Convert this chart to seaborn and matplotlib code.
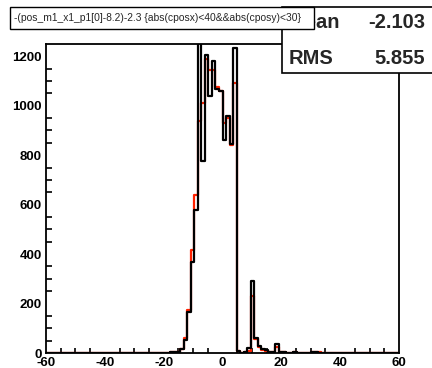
import numpy as np
import pandas as pd
import matplotlib
matplotlib.use("Agg")
import matplotlib.pyplot as plt
from matplotlib.patches import Rectangle
from matplotlib.ticker import MultipleLocator
import seaborn as sns

# Histogram binning: 100 bins over [-60, 60]
x_min, x_max, n_bins = -60.0, 60.0, 100
first_bin = 35  # index of the first bin listed below

# Bin contents starting at bin index `first_bin`
counts_black = [3, 4, 5, 15, 52, 167, 369, 580, 1400, 775,
                1205, 1041, 1180, 1066, 1058, 861, 958, 847, 1232, 8,
                1, 5, 19, 291, 59, 28, 15, 13, 4, 3,
                36, 4, 3, 2, 2, 5, 0, 0, 0, 0,
                6, 6, 0]
counts_red = [4, 4, 5, 16, 60, 175, 415, 640, 938, 1009,
              1190, 1146, 1146, 1075, 1060, 930, 950, 840, 1090, 8,
              1, 4, 8, 232, 55, 25, 14, 10, 4, 3,
              25, 4, 3, 2, 2, 3, 0, 0, 0, 0,
              6, 6, 4]

title_text = "-(pos_m1_x1_p1[0]-8.2)-2.3 {abs(cposx)<40&&abs(cposy)<30}"
stat_names = ["Mean", "RMS"]
stat_values = ["-2.103", "5.855"]

x_ticks = [-60, -40, -20, 0, 20, 40, 60]
y_ticks = [0, 200, 400, 600, 800, 1000, 1200]

width = (x_max - x_min) / n_bins
sel = x_min + width * (np.arange(len(counts_black)) + first_bin + 0.5)
df = pd.DataFrame({"x": sel, "black": counts_black, "red": counts_red})

sns.set_theme(style="white")
plt.rcParams["font.family"] = ["Liberation Sans", "DejaVu Sans"]

W, H = 432, 368
fig = plt.figure(figsize=(W / 100, H / 100), dpi=100)
ax = fig.add_axes([46 / W, 15 / H, 353 / W, 309 / H])

sns.histplot(data=df, x="x", weights="red", bins=n_bins,
             binrange=(x_min, x_max), element="step", fill=False,
             color="#ff2200", linewidth=1.6, ax=ax)
sns.histplot(data=df, x="x", weights="black", bins=n_bins,
             binrange=(x_min, x_max), element="step", fill=False,
             color="black", linewidth=1.6, ax=ax)

ax.set_xlim(x_min, x_max)
ax.set_ylim(0, 1.05 * max(counts_red))
ax.set_xlabel("")
ax.set_ylabel("")
ax.set_xticks(x_ticks)
ax.set_yticks(y_ticks)
ax.set_xticklabels([str(v) for v in x_ticks])
ax.set_yticklabels([str(v) for v in y_ticks])
ax.xaxis.set_minor_locator(MultipleLocator(5))
ax.yaxis.set_minor_locator(MultipleLocator(50))
ax.tick_params(axis="x", which="major", direction="in", length=7, width=1.2,
               color="black", pad=3, labelsize=9.5)
ax.tick_params(axis="x", which="minor", direction="in", length=3.5, width=1.2,
               color="black", bottom=True)
ax.tick_params(axis="y", which="major", direction="in", length=8.5, width=1.2,
               color="black", pad=3, labelsize=9.5)
ax.tick_params(axis="y", which="minor", direction="in", length=4.3, width=1.2,
               color="black", left=True)
for lab in ax.get_xticklabels() + ax.get_yticklabels():
    lab.set_fontweight("bold")
    lab.set_color("black")
for sp in ax.spines.values():
    sp.set_color("black")
    sp.set_linewidth(1.3)

# Statistics box
stat_box = Rectangle((282 / W, 1 - 73 / H), 160 / W, 66 / H,
                     transform=fig.transFigure, facecolor="white",
                     edgecolor="black", linewidth=1.2, zorder=5)
fig.patches.append(stat_box)
for name, val, yc in zip(stat_names, stat_values, [22, 58]):
    fig.text(289 / W, 1 - yc / H, name, ha="left", va="center",
             fontsize=14.5, fontweight="bold", zorder=6)
    fig.text(425 / W, 1 - yc / H, val, ha="right", va="center",
             fontsize=14.5, fontweight="bold", zorder=6)

# Title box
title_box = Rectangle((10 / W, 1 - 29 / H), 304 / W, 22 / H,
                      transform=fig.transFigure, facecolor="white",
                      edgecolor="black", linewidth=1.0, zorder=7)
fig.patches.append(title_box)
fig.text(158 / W, 1 - 18 / H, title_text, ha="center", va="center",
         fontsize=7.4, zorder=8)

fig.savefig("out.png", dpi=100)
